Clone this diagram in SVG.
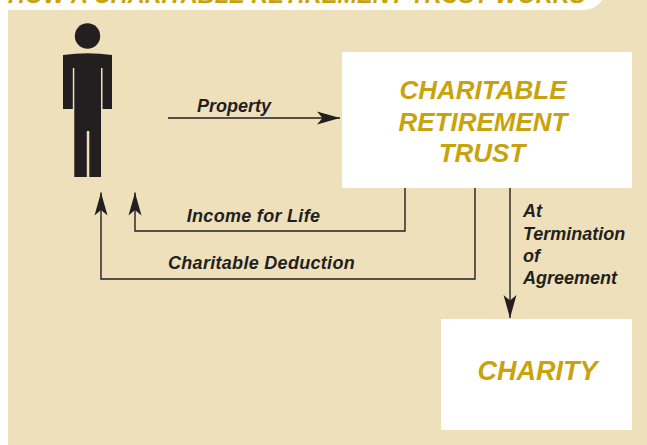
<svg xmlns="http://www.w3.org/2000/svg" width="647" height="445" viewBox="0 0 647 445">
  <defs>
    <style>
      .lbl { font-family: "Liberation Sans", Arial, sans-serif; font-weight: bold; font-style: italic; font-size: 18px; fill: #231f20; }
      .gold { font-family: "Liberation Sans", Arial, sans-serif; font-weight: bold; font-style: italic; fill: #c9a30c; }
      .conn { fill: none; stroke: #231f20; stroke-width: 1.4; }
      .box { fill: #ffffff; }
    </style>
    <marker id="arrow" viewBox="-24 -8 26 16" refX="0" refY="0" markerWidth="26" markerHeight="16" markerUnits="userSpaceOnUse" orient="auto">
      <path d="M0,0 L-23,-6.5 L-17.5,0 L-23,6.5 Z" fill="#231f20"/>
    </marker>
  </defs>

  <rect x="0" y="0" width="647" height="445" fill="#ffffff"/>
  <rect x="8" y="0" width="639" height="445" fill="#efe0bc"/>

  <g id="banner">
    <rect x="-30" y="-30" width="635" height="40" rx="22" ry="22" fill="#ffffff"/>
    <text class="gold" x="8" y="2.5" font-size="23.5">HOW A CHARITABLE RETIREMENT TRUST WORKS</text>
  </g>

  <g id="person">
    <circle cx="87.5" cy="36" r="12.7" fill="#231f20"/>
    <path d="M63,55 Q87.5,51.5 112,55 L112,109 L102.5,109 L102.5,68 L101,68 L101,177 L89.3,177 L89.3,131 L86.8,131 L86.8,177 L74.3,177 L74.3,68 L72.8,68 L72.8,109 L63,109 Z" fill="#231f20"/>
  </g>

  <g id="trust">
    <rect class="box" x="342" y="52" width="290" height="136"/>
    <text class="gold" font-size="26" text-anchor="middle" x="483" y="99">CHARITABLE</text>
    <text class="gold" font-size="26" text-anchor="middle" x="483" y="131">RETIREMENT</text>
    <text class="gold" font-size="26" text-anchor="middle" x="482" y="162">TRUST</text>
  </g>

  <g id="charity">
    <rect class="box" x="441" y="319" width="191" height="111"/>
    <text class="gold" font-size="27" text-anchor="middle" x="537.5" y="380">CHARITY</text>
  </g>

  <g id="connectors">
    <path class="conn" d="M168,118 H340" marker-end="url(#arrow)"/>
    <path class="conn" d="M405,188 V231 H135 V192.5" marker-end="url(#arrow)"/>
    <path class="conn" d="M475,188 V279 H101 V192.5" marker-end="url(#arrow)"/>
    <path class="conn" d="M510,188 V318" marker-end="url(#arrow)"/>
  </g>

  <g id="labels">
    <text class="lbl" x="234" y="112" text-anchor="middle">Property</text>
    <text class="lbl" x="253.5" y="222" text-anchor="middle" letter-spacing="0.3">Income for Life</text>
    <text class="lbl" x="261.5" y="269" text-anchor="middle" letter-spacing="0.3">Charitable Deduction</text>
    <text class="lbl" x="523" y="217">At</text>
    <text class="lbl" x="523" y="240">Termination</text>
    <text class="lbl" x="523" y="262">of</text>
    <text class="lbl" x="523" y="284">Agreement</text>
  </g>
</svg>
